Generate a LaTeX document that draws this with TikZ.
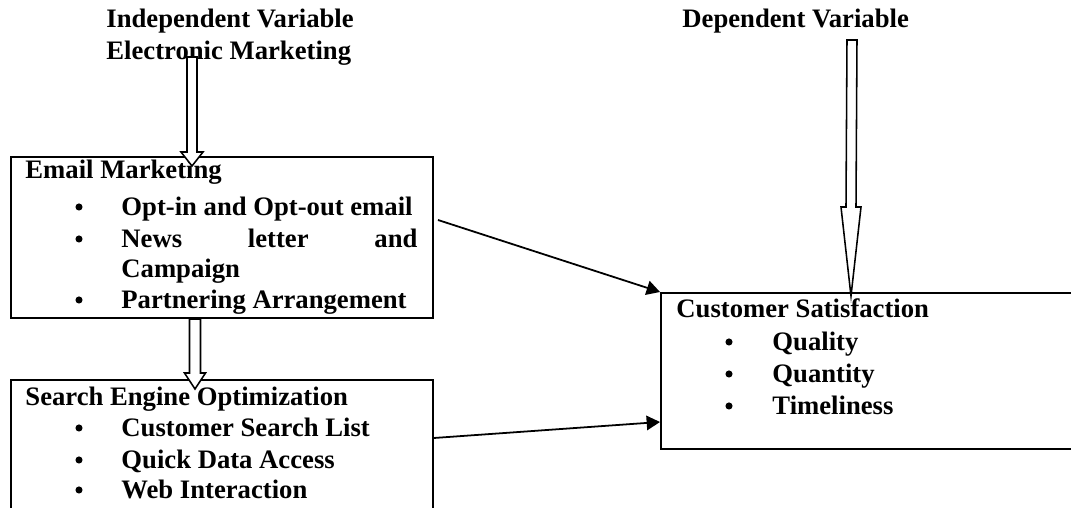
\documentclass[tikz,border=0pt]{standalone}
\usepackage{fontspec}
\setmainfont{Liberation Serif}
\usetikzlibrary{arrows.meta,calc,fit}

% hollow block arrow pointing down: start, tip, shaft half-width, head half-width, head length
\newcommand\blockarrow[5]{%
  \draw[hollowarrow]
    ($(#1)+(-#3,0)$) -- ($(#2)+(-#3,-#5)$) -- ($(#2)+(-#4,-#5)$) -- (#2)
    -- ($(#2)+(#4,-#5)$) -- ($(#2)+(#3,-#5)$) -- ($(#1)+(#3,0)$) -- cycle;}

\begin{document}
\begin{tikzpicture}[x=0.45pt,y=-0.45pt,
    every node/.style={font=\fontsize{12}{14}\selectfont\bfseries, inner sep=0pt},
    txt/.style={anchor=base west},
    dot/.style={circle, fill, minimum size=3.2pt},
    framebox/.style={draw, line width=0.9pt, inner sep=0pt},
    hollowarrow/.style={draw, fill=white, line width=0.7pt, line join=miter},
    link/.style={line width=0.8pt, -{Triangle[length=6pt,width=6.5pt]}}]
\useasboundingbox (0,0) rectangle (1071,508);
\clip (0,0) rectangle (1071,508);

% headings
\node[txt] (ivar) at (106,28) {Independent Variable};
\node[txt] (emkt) at (106,60) {Electronic Marketing};
\node[txt] (dvar) at (682,28) {Dependent Variable};

% boxes
\node[framebox, fit={(11,157) (433,318)}] (email) {};
\node[framebox, fit={(11,380) (433,540)}] (seo) {};
\node[framebox, fit={(661,293) (1100,449)}] (cs) {};

% Email Marketing
\node[txt] (eh) at (25,179) {Email Marketing};
\node[dot] (eb1) at (79,207) {};
\node[txt] (e1) at (121,216) {Opt-in and Opt-out email};
\node[dot] (eb2) at (79,239) {};
\node[txt] (e2) at (121,248) {\hbox to 133.2pt{News\hfill letter\hfill and}};
\node[txt] (e3) at (121,278) {Campaign};
\node[dot] (eb4) at (79,300) {};
\node[txt] (e4) at (121,309) {Partnering Arrangement};

% Search Engine Optimization
\node[txt] (sh) at (25,406) {Search Engine Optimization};
\node[dot] (sb1) at (79,428) {};
\node[txt] (s1) at (121,437) {Customer Search List};
\node[dot] (sb2) at (79,460) {};
\node[txt] (s2) at (121,469) {Quick Data Access};
\node[dot] (sb3) at (79,490) {};
\node[txt] (s3) at (121,499) {Web Interaction};

% Customer Satisfaction
\node[txt] (ch) at (676,318) {Customer Satisfaction};
\node[dot] (cb1) at (729,342) {};
\node[txt] (c1) at (772,351) {Quality};
\node[dot] (cb2) at (729,374) {};
\node[txt] (c2) at (772,383) {Quantity};
\node[dot] (cb3) at (729,406) {};
\node[txt] (c3) at (772,415) {Timeliness};

% block arrows
\coordinate (a1s) at (192,57);
\coordinate (a1t) at (192,166);
\blockarrow{a1s}{a1t}{5}{11}{14}
\coordinate (a2s) at ($(email.south west)+(185,0)$);
\coordinate (a2t) at ($(email.south west)+(185,70)$);
\blockarrow{a2s}{a2t}{5.5}{10.5}{16}
\coordinate (a3s) at (852,40);
\coordinate (a3t) at ($(cs.north west)+(191,4)$);
\blockarrow{a3s}{a3t}{5}{10}{89}

% links
\coordinate (l1s) at ($(email.north east)+(4,64)$);
\draw[link] (l1s) -- (cs.north west);
\draw[link] ($(seo.north east)+(0,59)$) -- ($(cs.north west)+(0,130)$);
\end{tikzpicture}
\end{document}
